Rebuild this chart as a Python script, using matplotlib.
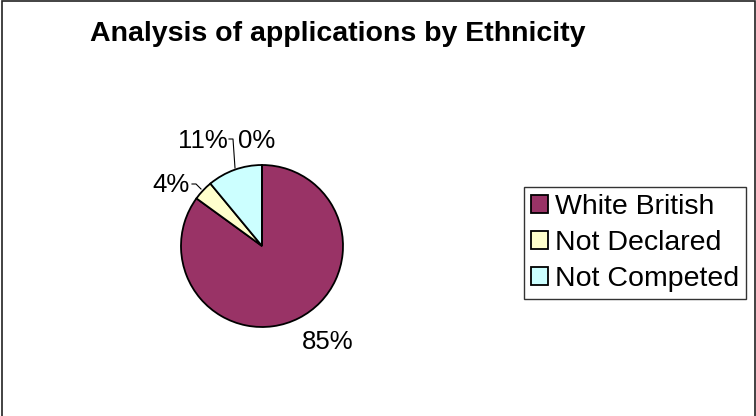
import matplotlib.pyplot as plt
from matplotlib.patches import Patch, Rectangle
from matplotlib.lines import Line2D

plt.rcParams['font.family'] = ['Liberation Sans', 'DejaVu Sans']

categories = ['White British', 'Not Declared', 'Not Competed', '']
shares = [85, 4, 11, 0]
colors = ['#993366', '#FFFFCC', '#CCFFFF', '#FFFFFF']

W, H = 756, 416
fig = plt.figure(figsize=(W / 100, H / 100), dpi=100)


def px(x, y):
    # pixel position (from top-left) -> figure fraction
    return x / W, 1 - y / H


# outer chart frame (bottom edge falls off the canvas)
fig.add_artist(Rectangle((1.5 / W, -0.02), (W - 3) / W, 1.02 - 1.5 / H,
                         transform=fig.transFigure, fill=False,
                         edgecolor='#222222', linewidth=1.2))

fig.text(*px(338, 41), 'Analysis of applications by Ethnicity',
         ha='center', va='baseline', fontsize=20.5, fontweight='bold')

# pie: centre (262, 246) px, radius 81 px
cx, cy, r = 262, 246, 81
ax = fig.add_axes([(cx - r) / W, 1 - (cy + r) / H, 2 * r / W, 2 * r / H])
wedges, _ = ax.pie(shares, colors=colors, startangle=90, counterclock=False,
                   radius=1, wedgeprops=dict(edgecolor='black', linewidth=1.3))
ax.set_xlim(-1, 1)
ax.set_ylim(-1, 1)
ax.set_aspect('auto')
ax.axis('off')


def d(x, y):
    # pixel position -> pie data coordinates
    return (x - cx) / r, (cy - y) / r


# (x, y, horizontal alignment) for each percentage label
label_pos = [(328, 342, 'center'), (190, 185, 'right'),
             (228, 141, 'right'), (238, 141, 'left')]
for s, (lx, ly, ha) in zip(shares, label_pos):
    ax.text(*d(lx, ly), f'{s}%', ha=ha, va='center', fontsize=18.5,
            clip_on=False)

# leader lines for the two small labelled slices
for pts in ([(192, 184), (196, 184), (201, 189)],
            [(229, 139), (233, 139), (235, 168)]):
    xs, ys = zip(*[d(x, y) for x, y in pts])
    ax.add_line(Line2D(xs, ys, color='black', linewidth=0.8, clip_on=False))

handles = [Patch(facecolor=c, edgecolor='black', linewidth=1.3)
           for c in colors[:3]]
leg = fig.legend(handles, categories[:3], loc='upper left',
                 bbox_to_anchor=px(524, 187), bbox_transform=fig.transFigure,
                 fontsize=20.5, frameon=True, fancybox=False, shadow=False,
                 handlelength=0.58, handleheight=0.58, handletextpad=0.25,
                 labelspacing=0.35, borderpad=0.25, borderaxespad=0)
leg.get_frame().set_edgecolor('black')
leg.get_frame().set_linewidth(1.0)

fig.savefig('out.png', dpi=100, facecolor='white')
